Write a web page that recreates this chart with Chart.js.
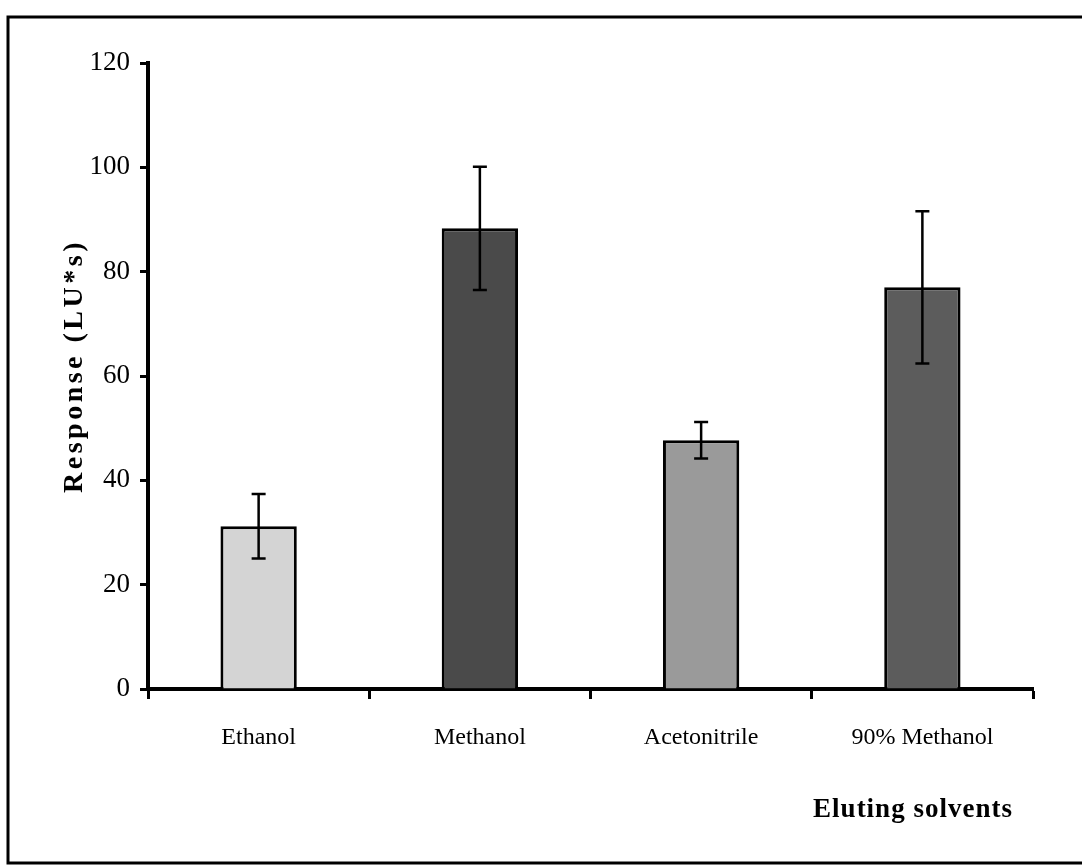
<!DOCTYPE html>
<html>
<head>
<meta charset="utf-8">
<script src="https://cdn.jsdelivr.net/npm/chart.js@4/dist/chart.umd.min.js"></script>
<style>
  html, body { margin: 0; padding: 0; background: #fff; }
  canvas { display: block; }
</style>
</head>
<body>
<canvas id="chart" width="1082" height="865"></canvas>
<script>
const solvents = ['Ethanol', 'Methanol', 'Acetonitrile', '90% Methanol'];
const response = [31.2, 88.3, 47.7, 77.0];
const errors = [6.2, 11.8, 3.5, 14.6];
const barColors = ['#d4d4d4', '#4a4a4a', '#9a9a9a', '#5c5c5c'];
const yTicks = [0, 20, 40, 60, 80, 100, 120];

const serif = '"Liberation Serif", "Times New Roman", serif';

// outer frame (right edge runs off the page)
const framePlugin = {
  id: 'frame',
  beforeDraw(chart) {
    const ctx = chart.ctx;
    ctx.save();
    ctx.fillStyle = '#fff';
    ctx.fillRect(0, 0, chart.width, chart.height);
    ctx.strokeStyle = '#000';
    ctx.lineWidth = 3;
    ctx.strokeRect(8, 17, chart.width + 20, 846);
    ctx.restore();
  }
};

// standard deviation whiskers above and below each bar
const errorBarPlugin = {
  id: 'errorBars',
  afterDatasetsDraw(chart) {
    const ctx = chart.ctx;
    const y = chart.scales.y;
    const meta = chart.getDatasetMeta(0);
    ctx.save();
    ctx.strokeStyle = '#000';
    ctx.lineWidth = 2.5;
    meta.data.forEach((bar, i) => {
      const hi = y.getPixelForValue(response[i] + errors[i]);
      const lo = y.getPixelForValue(response[i] - errors[i]);
      ctx.beginPath();
      ctx.moveTo(bar.x, hi);
      ctx.lineTo(bar.x, lo);
      ctx.moveTo(bar.x - 7, hi);
      ctx.lineTo(bar.x + 7, hi);
      ctx.moveTo(bar.x - 7, lo);
      ctx.lineTo(bar.x + 7, lo);
      ctx.stroke();
    });
    ctx.restore();
  }
};

const axisTitlePlugin = {
  id: 'axisTitles',
  afterDraw(chart) {
    const ctx = chart.ctx;
    ctx.save();
    ctx.fillStyle = '#000';
    ctx.textAlign = 'center';
    ctx.textBaseline = 'middle';
    ctx.font = 'bold 27px ' + serif;
    ctx.letterSpacing = '1px';
    ctx.fillText('Eluting solvents', 913, 810);
    ctx.translate(75, 366);
    ctx.rotate(-Math.PI / 2);
    ctx.font = 'bold 28px ' + serif;
    ctx.letterSpacing = '3.5px';
    ctx.fillText('Response (LU*s)', 0, 0);
    ctx.restore();
  }
};

new Chart(document.getElementById('chart'), {
  type: 'bar',
  data: {
    labels: solvents,
    datasets: [{
      data: response,
      backgroundColor: barColors,
      borderColor: '#000',
      borderWidth: 3,
      categoryPercentage: 1,
      barPercentage: 0.345
    }]
  },
  options: {
    responsive: false,
    animation: false,
    devicePixelRatio: 1,
    layout: { padding: { top: 63, right: 49, left: 0, bottom: 0 } },
    plugins: {
      legend: { display: false },
      tooltip: { enabled: false }
    },
    scales: {
      x: {
        grid: {
          offset: true,
          drawOnChartArea: false,
          color: '#000',
          tickLength: 10,
          tickWidth: 3
        },
        border: { color: '#000', width: 4 },
        ticks: {
          color: '#000',
          padding: 24,
          maxRotation: 0,
          font: { family: serif, size: 24 }
        },
        afterFit(scale) { scale.height = 176; }
      },
      y: {
        min: 0,
        max: 120,
        afterBuildTicks(scale) {
          scale.ticks = yTicks.map(v => ({ value: v }));
        },
        grid: {
          drawOnChartArea: false,
          color: '#000',
          tickLength: 8,
          tickWidth: 3
        },
        border: { color: '#000', width: 4 },
        ticks: {
          color: '#000',
          padding: 10,
          font: { family: serif, size: 27 }
        },
        afterFit(scale) { scale.width = 148; }
      }
    }
  },
  plugins: [framePlugin, errorBarPlugin, axisTitlePlugin]
});
</script>
</body>
</html>
